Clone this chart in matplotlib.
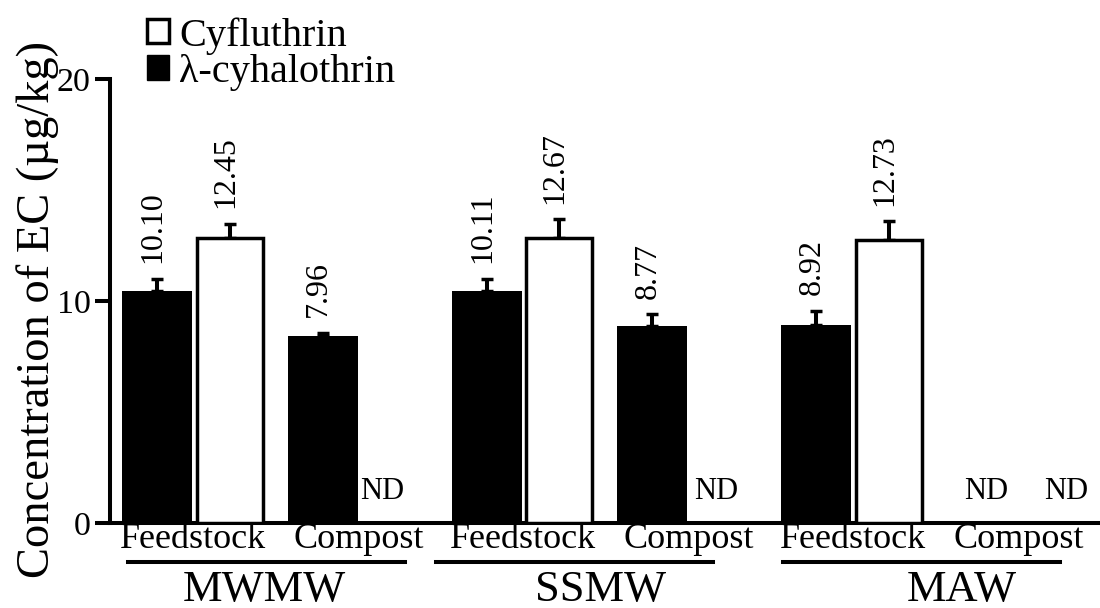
import numpy as np
import matplotlib
matplotlib.use("Agg")
import matplotlib.pyplot as plt
from matplotlib.patches import Patch

groups = ["MWMW", "SSMW", "MAW"]
stages = ["Feedstock", "Compost"]

# bar heights as drawn (ug/kg), order: MWMW feed, MWMW comp, SSMW feed, ... ; 0 = not detected
lam_vals = [10.45, 8.42, 10.45, 8.87, 8.92, 0.0]
lam_err = [0.54, 0.14, 0.54, 0.54, 0.63, 0.0]
cyf_vals = [12.84, 0.0, 12.84, 0.0, 12.75, 0.0]
cyf_err = [0.63, 0.0, 0.85, 0.0, 0.85, 0.0]

# numbers printed above the bars
lam_text = ["10.10", "7.96", "10.11", "8.77", "8.92", "ND"]
cyf_text = ["12.45", "ND", "12.67", "ND", "12.73", "ND"]


def main():
    plt.rcParams["font.family"] = ["Liberation Serif", "DejaVu Serif"]

    # layout (x in bar-width units)
    group_start, group_step = 0.67, 4.71
    stage_step, pair_gap = 2.37, 1.04
    x_lam = np.array([group_start + g * group_step + s * stage_step
                      for g in range(len(groups)) for s in range(len(stages))])
    x_cyf = x_lam + pair_gap

    fig = plt.figure(figsize=(11, 6.08), dpi=100)
    ax = fig.add_axes([0.1, 0.1398, 0.9, 0.7303])

    lv, le = np.array(lam_vals), np.array(lam_err)
    cv, ce = np.array(cyf_vals), np.array(cyf_err)
    lm, cm = lv > 0, cv > 0

    ax.errorbar(x_lam[lm], lv[lm], yerr=[np.zeros(lm.sum()), le[lm]], fmt="none",
                ecolor="black", elinewidth=2.9, capsize=4.3, capthick=2.5, zorder=2)
    ax.errorbar(x_cyf[cm], cv[cm], yerr=[np.zeros(cm.sum()), ce[cm]], fmt="none",
                ecolor="black", elinewidth=2.9, capsize=4.3, capthick=2.5, zorder=2)
    ax.bar(x_lam[lm], lv[lm], width=1.0, color="black", zorder=3)
    ax.bar(x_cyf[cm], cv[cm], width=0.94, color="white", edgecolor="black",
           linewidth=2.5, zorder=3)

    # value labels / ND
    cyf_nd_shift = [-0.19, -0.13, 0.16]
    for i in range(len(lam_vals)):
        if lm[i]:
            ax.text(x_lam[i] - 0.06, lv[i] + le[i] + 0.7, lam_text[i], rotation=90,
                    ha="center", va="bottom", fontsize=23)
        else:
            ax.text(x_lam[i] + 0.05, 1.4, lam_text[i], ha="center", va="center", fontsize=22)
        if cm[i]:
            ax.text(x_cyf[i] - 0.06, cv[i] + ce[i] + 0.7, cyf_text[i], rotation=90,
                    ha="center", va="bottom", fontsize=23)
        else:
            ax.text(x_cyf[i] + cyf_nd_shift[i // 2], 1.4, cyf_text[i],
                    ha="center", va="center", fontsize=22)

    ax.set_xlim(0, 14.143)
    ax.set_ylim(0, 20)
    ax.set_yticks([0, 10, 20])
    ax.set_xticks((x_lam + x_cyf) / 2, stages * len(groups))
    ax.tick_params(axis="x", length=0, pad=0, labelsize=26)
    ax.tick_params(axis="y", length=11, width=2.9, pad=3, labelsize=24.5)
    for side in ["top", "right"]:
        ax.spines[side].set_visible(False)
    for side in ["left", "bottom"]:
        ax.spines[side].set_linewidth(2.9)

    # group underlines and names
    line_start = [-0.41, -0.72, -0.48]
    name_off = [1.54, 1.63, 2.08]
    trans = ax.get_xaxis_transform()
    for g, name in enumerate(groups):
        x0 = x_lam[2 * g]
        ax.plot([x0 + line_start[g], x0 + line_start[g] + 3.96], [-0.088, -0.088],
                transform=trans, clip_on=False, color="black", lw=2.9)
        ax.text(x0 + name_off[g], -0.176, name, transform=trans, ha="center",
                va="baseline", fontsize=32)

    fig.text(38 / 1100, 1 - 310 / 608, "Concentration of EC (µg/kg)", rotation=90,
             ha="center", va="center", fontsize=33.5)

    handles = [Patch(facecolor="white", edgecolor="black", linewidth=2.5),
               Patch(facecolor="black", edgecolor="black")]
    fig.legend(handles, ["Cyfluthrin", "λ-cyhalothrin"], loc="upper left",
               bbox_to_anchor=(147 / 1100, 1 - 17 / 608), frameon=False, fontsize=29,
               handlelength=0.55, handleheight=0.55, handletextpad=0.25,
               labelspacing=-0.02, borderpad=0, borderaxespad=0)

    fig.savefig("out.png", dpi=100)


if __name__ == "__main__":
    main()
